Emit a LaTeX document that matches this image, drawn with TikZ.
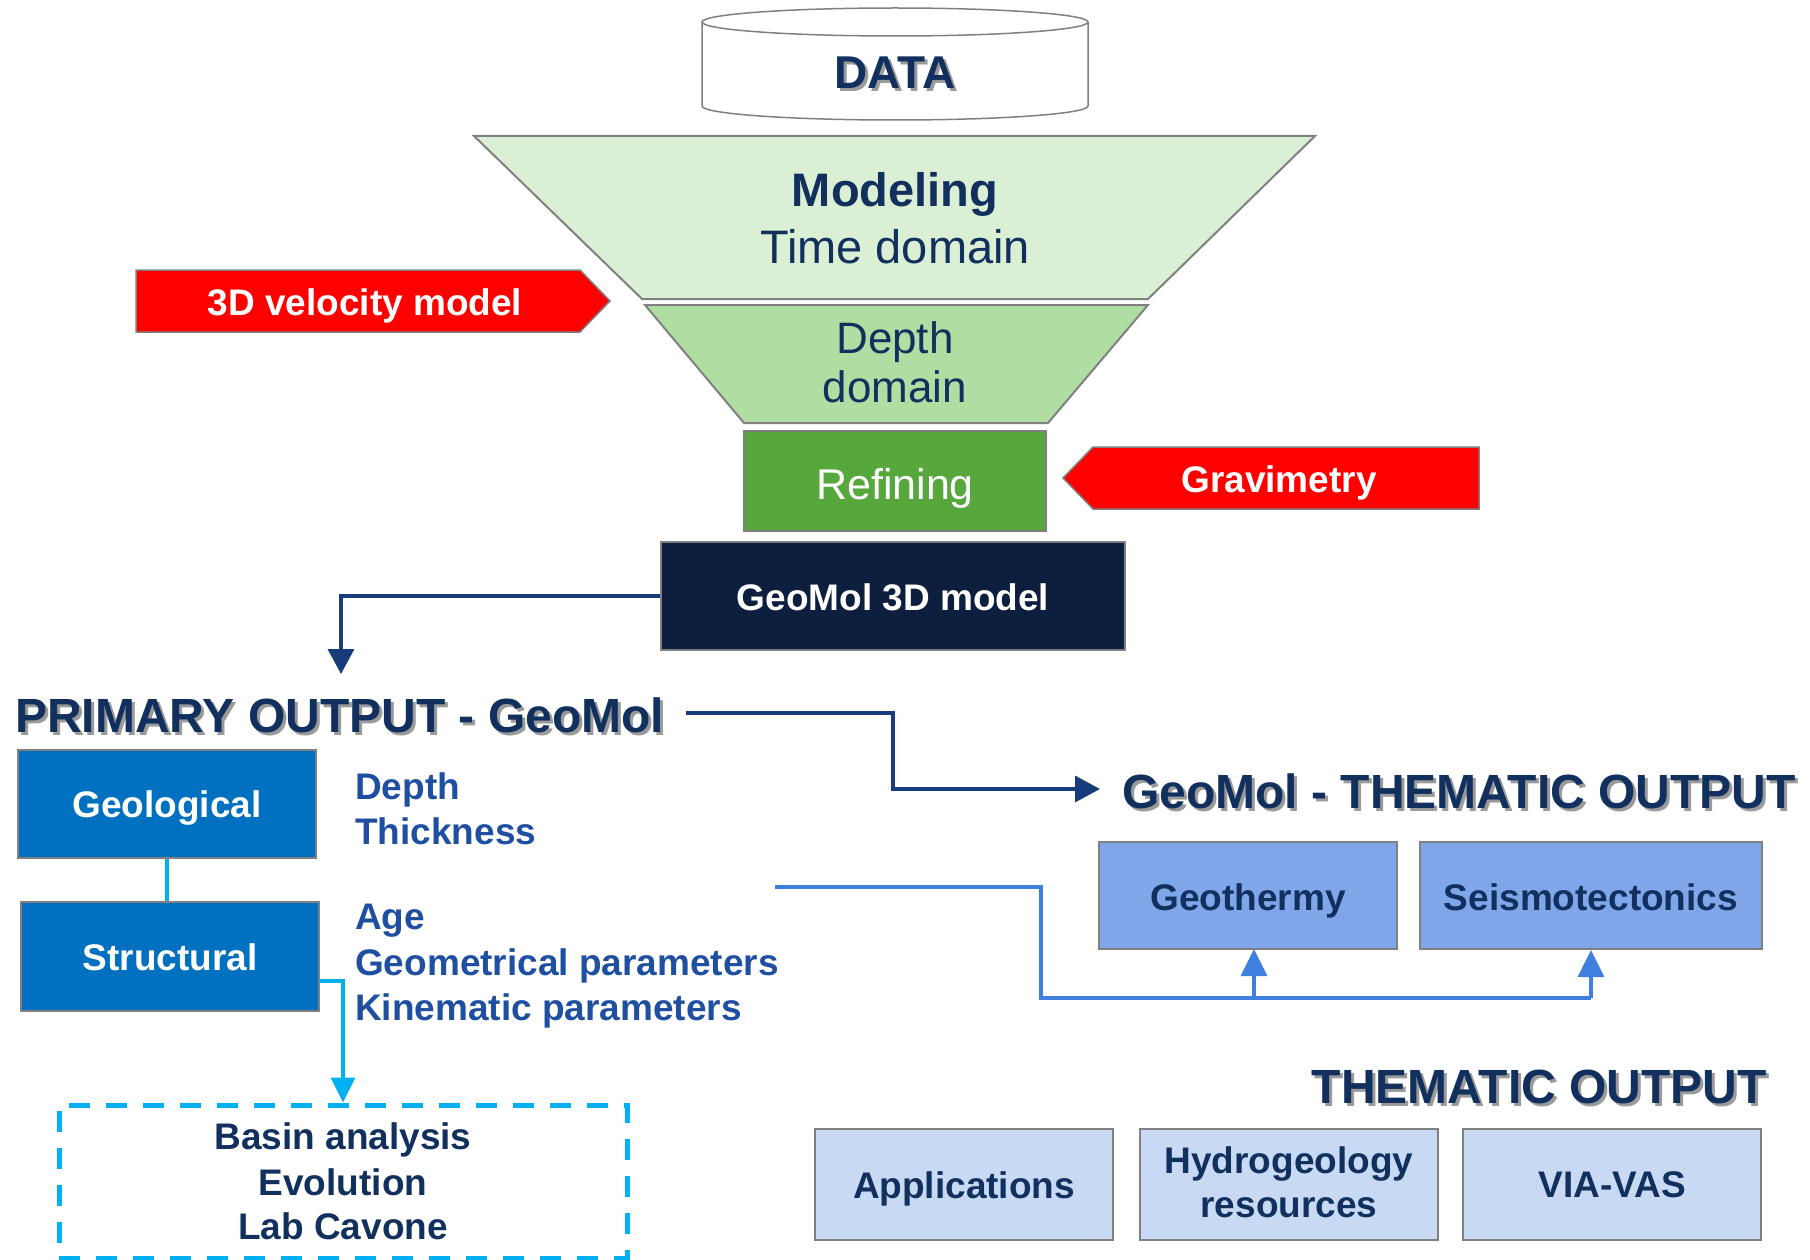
\documentclass[tikz,border=0pt]{standalone}
\usepackage{fontspec}
\setmainfont{Liberation Sans}
\usetikzlibrary{arrows.meta}
\definecolor{navy}{HTML}{12305E}
\definecolor{shade}{HTML}{9A9A9A}
\definecolor{bordergray}{HTML}{808080}
\definecolor{lgreen}{HTML}{DAEFD3}
\definecolor{mgreen}{HTML}{B0DDA2}
\definecolor{dgreen}{HTML}{56A83C}
\definecolor{redarrow}{HTML}{FF0000}
\definecolor{darkbox}{HTML}{0C1F3F}
\definecolor{linenavy}{HTML}{173C7B}
\definecolor{boxblue}{HTML}{0070C0}
\definecolor{textblue}{HTML}{1F4FA0}
\definecolor{cyanline}{HTML}{00B0F0}
\definecolor{midblue}{HTML}{3F7FE0}
\definecolor{geothfill}{HTML}{7EA6E8}
\definecolor{paleblue}{HTML}{C7D9F3}
\newcommand{\myfs}[1]{\fontsize{#1}{#1}\selectfont}
\begin{document}
\begin{tikzpicture}[x=1pt,y=-1pt,
  box/.style={draw=bordergray, line width=2pt, inner sep=0pt, rectangle},
  lab/.style={inner sep=0pt, anchor=base, text=navy, font=\myfs{37}\bfseries},
  wlab/.style={inner sep=0pt, anchor=base, text=white, font=\myfs{37}\bfseries},
  blab/.style={inner sep=0pt, anchor=base west, text=textblue, font=\myfs{37}\bfseries},
  title/.style={inner sep=0pt, text=navy, font=\myfs{48}\bfseries},
  shadowtitle/.style={inner sep=0pt, text=shade, font=\myfs{48}\bfseries},
  navyline/.style={draw=linenavy, line width=3.5pt},
  navyarrow/.style={navyline, -{Triangle[length=25pt,width=26pt]}},
  cyanarrow/.style={draw=cyanline, line width=3.5pt, -{Triangle[length=25pt,width=24pt]}},
  bluearrow/.style={draw=midblue, line width=3.5pt, -{Triangle[length=27pt,width=26pt]}},
  blueline/.style={draw=midblue, line width=3.5pt}
]
\useasboundingbox (0,0) rectangle (1810,1260);

% DATA cylinder
\draw[draw=bordergray, line width=1.5pt, fill=white]
  (702,22) -- (702,106) arc[start angle=180, end angle=0, x radius=193, y radius=14] -- (1088,22);
\draw[draw=bordergray, line width=1.5pt, fill=white] (895,22) ellipse [x radius=193, y radius=14];
\node[shadowtitle, anchor=base, font=\myfs{46}\bfseries] at (898,92) {DATA};
\node[title, anchor=base, font=\myfs{46}\bfseries] (data) at (895,89) {DATA};

% funnel
\draw[draw=bordergray, line width=2pt, fill=lgreen] (474,136) -- (1315,136) -- (1148,299) -- (642,299) -- cycle;
\draw[draw=bordergray, line width=2pt, fill=mgreen] (645,305) -- (1148,305) -- (1048,423) -- (744,423) -- cycle;
\node[lab, font=\myfs{47}\bfseries] (modeling) at (895,207) {Modeling};
\node[lab, font=\myfs{47}] (timed) at (895,263) {Time domain};
\node[lab, font=\myfs{44}] (depth) at (895,353) {Depth};
\node[lab, font=\myfs{44}] (domain) at (895,402) {domain};

% Refining
\node[box, fill=dgreen, minimum width=302pt, minimum height=100pt] (refine) at (895,481) {};
\node[wlab, font=\myfs{43}] at (895,499) {Refining};

% red arrows
\draw[draw=bordergray, line width=1.5pt, fill=redarrow] (136,270) -- (580,270) -- (610,301) -- (580,332) -- (136,332) -- cycle;
\node[wlab] (vel) at (365,315) {3D velocity model};
\draw[draw=bordergray, line width=1.5pt, fill=redarrow] (1479,447) -- (1093,447) -- (1063,478) -- (1093,509) -- (1479,509) -- cycle;
\node[wlab] (grav) at (1279,492) {Gravimetry};

% GeoMol 3D model
\node[box, fill=darkbox, minimum width=464pt, minimum height=108pt] (g3d) at (893,596) {};
\node[wlab] at (893,610) {GeoMol 3D model};

% Primary output title
\node[shadowtitle, anchor=base west] at (18,735) {PRIMARY OUTPUT - GeoMol};
\node[title, anchor=base west] (primary) at (15,732) {PRIMARY OUTPUT - GeoMol};
\coordinate (ptop) at (341,674);
\draw[navyarrow] (g3d.west) -| (ptop);

% Thematic title (GeoMol)
\node[shadowtitle, anchor=base west] at (1125,811) {GeoMol - THEMATIC OUTPUT};
\node[title, anchor=base west] (geothem) at (1122,808) {GeoMol - THEMATIC OUTPUT};
\coordinate (pend) at (686,713);
\coordinate (tleft) at (1100,789);
\draw[navyarrow] (pend) -- (893,713) |- (tleft);

% Geological / Structural
\node[box, fill=boxblue, minimum width=298pt, minimum height=108pt] (geo) at (167,804) {};
\node[wlab] at (167,817) {Geological};
\node[box, fill=boxblue, minimum width=298pt, minimum height=109pt] (str) at (170,956.5) {};
\node[wlab] at (170,970) {Structural};
\draw[draw=cyanline, line width=3.5pt] (geo.south) -- (geo.south |- str.north);

\node[blab] at (355,799) {Depth};
\node[blab] at (355,844) {Thickness};
\node[blab] at (355,929) {Age};
\node[blab] at (355,975) {Geometrical parameters};
\node[blab] at (355,1020) {Kinematic parameters};

% dashed box
\node[draw=cyanline, line width=5pt, dash pattern=on 21pt off 16pt, inner sep=0pt,
      minimum width=568pt, minimum height=153pt] (basin) at (343,1181.5) {};
\node[lab] at (343,1149) {Basin analysis};
\node[lab] at (343,1195) {Evolution};
\node[lab] at (343,1239) {Lab Cavone};
\draw[cyanarrow] ([yshift=-24.5pt]str.east) -| (basin.north);

% Geothermy / Seismotectonics
\node[box, fill=geothfill, minimum width=298pt, minimum height=107pt] (geoth) at (1248,895.5) {};
\node[lab] at (1248,910) {Geothermy};
\node[box, fill=geothfill, minimum width=342pt, minimum height=107pt] (seis) at (1591,895.5) {};
\node[lab] at (1591,910) {Seismotectonics};
\coordinate (bstart) at (775,887);
\coordinate (bjoin) at (1041,998);
\draw[blueline] (bstart) -| (bjoin) -- (seis.south |- bjoin);
\draw[bluearrow] (bjoin -| 1254,0) -- (1254,949);
\draw[bluearrow] (seis.south |- bjoin) -- (seis.south);

% Thematic output
\node[shadowtitle, anchor=base east] at (1770,1106) {THEMATIC OUTPUT};
\node[title, anchor=base east] (them) at (1767,1103) {THEMATIC OUTPUT};
\node[box, fill=paleblue, minimum width=298pt, minimum height=111pt] (app) at (964,1184.5) {};
\node[lab] at (964,1198) {Applications};
\node[box, fill=paleblue, minimum width=298pt, minimum height=111pt] (hyd) at (1289,1184.5) {};
\node[lab] at (1289,1173) {Hydrogeology};
\node[lab] at (1289,1217) {resources};
\node[box, fill=paleblue, minimum width=298pt, minimum height=111pt] (via) at (1612,1184.5) {};
\node[lab] at (1612,1197) {VIA-VAS};
\end{tikzpicture}
\end{document}
